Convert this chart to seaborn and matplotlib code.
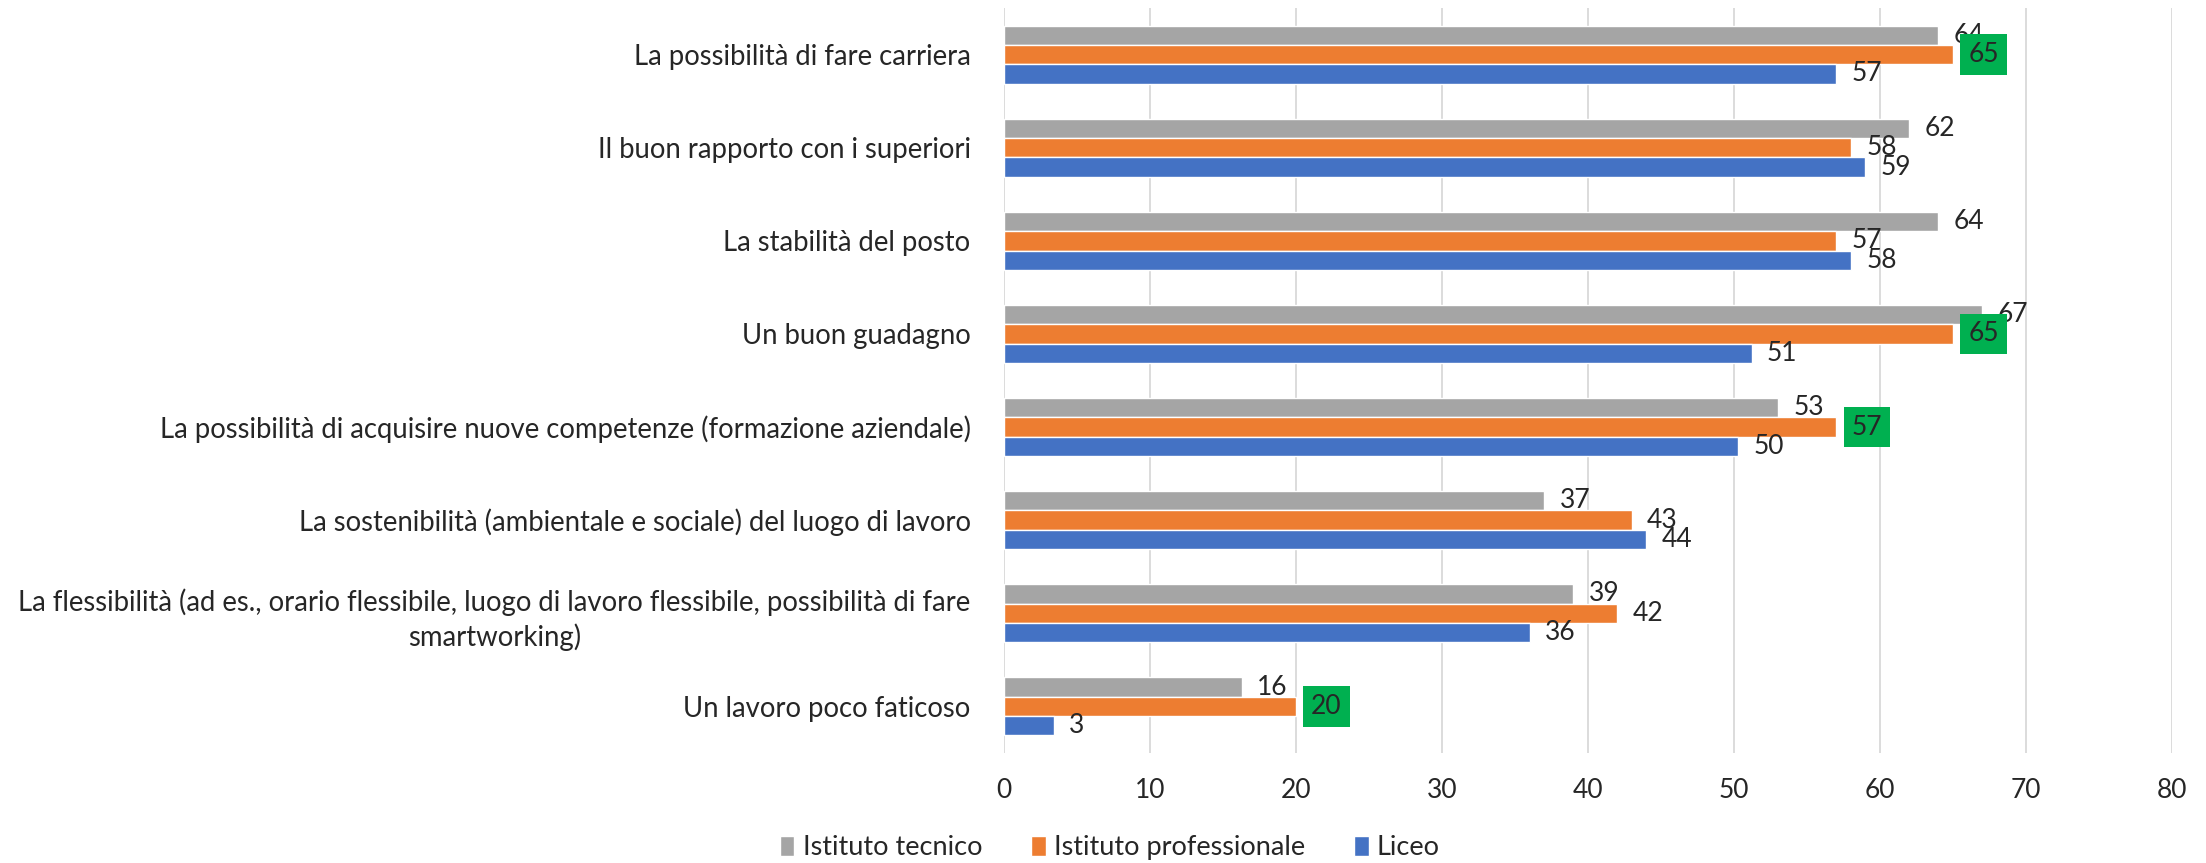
import numpy as np
import pandas as pd
import matplotlib.pyplot as plt
import seaborn as sns

# %% Dati
categorie = [
    'La possibilità di fare carriera',
    'Il buon rapporto con i superiori',
    'La stabilità del posto',
    'Un buon guadagno',
    'La possibilità di acquisire nuove competenze (formazione aziendale)',
    'La sostenibilità (ambientale e sociale) del luogo di lavoro',
    'La flessibilità (ad es., orario flessibile, luogo di lavoro flessibile, possibilità di fare\nsmartworking)',
    'Un lavoro poco faticoso',
]
tecnico = [64, 62, 64, 67, 53, 37, 39, 16.3]
professionale = [65, 58, 57, 65, 57, 43, 42, 20]
liceo = [57, 59, 58, 51.2, 50.3, 44, 36, 3.4]

serie = ['Istituto tecnico', 'Istituto professionale', 'Liceo']
colori = ['#A5A5A5', '#ED7D31', '#4472C4']
# etichette di Istituto professionale evidenziate in verde
evidenziati = [True, False, False, True, True, False, False, True]

df = pd.DataFrame({
    'categoria': categorie * 3,
    'valore': tecnico + professionale + liceo,
    'scuola': np.repeat(serie, len(categorie)),
})

# %% Grafico
sns.set_style('white')
plt.rcParams['font.family'] = ['Lato', 'DejaVu Sans']

fig, ax = plt.subplots(figsize=(22.06, 8.63), dpi=100)
fig.subplots_adjust(left=0.4551, right=0.9846, top=0.9907, bottom=0.1275)

sns.barplot(data=df, y='categoria', x='valore', hue='scuola', hue_order=serie,
            palette=colori, width=0.624, saturation=1, orient='h', ax=ax,
            legend=True)

# etichette dei valori
for i, cont in enumerate(ax.containers):
    etichette = ax.bar_label(cont, fmt='%.0f', padding=11, fontsize=19)
    if serie[i] == 'Istituto professionale':
        for j, t in enumerate(etichette):
            if evidenziati[j]:
                t.set_bbox(dict(boxstyle='square,pad=0.3', facecolor='#00B050',
                                edgecolor='none'))

ax.set_xlim(0, 80)
ax.set_xticks(range(0, 90, 10))
ax.set_ylim(7.5, -0.5)
ax.set_xlabel('')
ax.set_ylabel('')
ax.grid(axis='x', color='#D9D9D9', linewidth=1.3)
ax.set_axisbelow(True)
for s in ax.spines.values():
    s.set_visible(False)
ax.tick_params(axis='y', length=0, pad=24, labelsize=19.8)
ax.tick_params(axis='x', length=0, pad=18, labelsize=19)
for lbl in ax.get_yticklabels():
    lbl.set_multialignment('center')
    lbl.set_linespacing(1.35)

# legenda in basso al centro
handles, labels = ax.get_legend_handles_labels()
ax.get_legend().remove()
fig.legend(handles, labels, loc='center', bbox_to_anchor=(0.503, 0.0174),
           ncol=3, frameon=False, fontsize=19.5, handlelength=0.55,
           handleheight=0.8, handletextpad=0.3, columnspacing=1.8)

plt.savefig('out.png', dpi=100)
